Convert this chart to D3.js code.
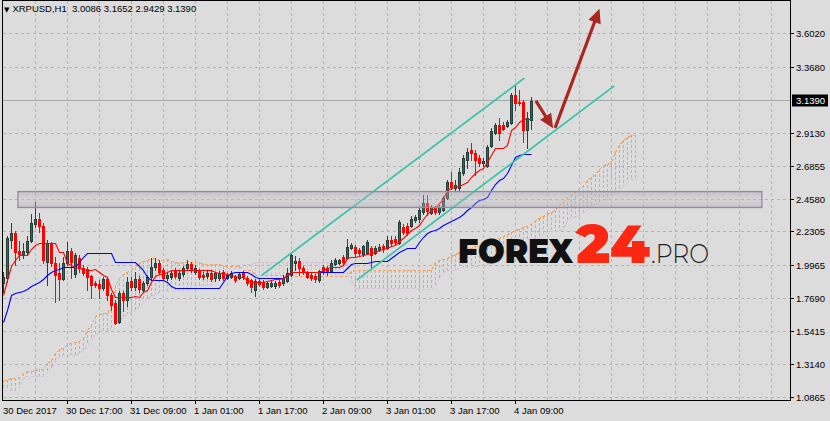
<!DOCTYPE html>
<html><head><meta charset="utf-8">
<script src="https://cdn.jsdelivr.net/npm/d3@7"></script>
<style>html,body{margin:0;padding:0;background:#dcdcdc;}svg{display:block;}</style>
</head><body>
<svg id="c" width="830" height="421"></svg>
<script>
const symbol = "XRPUSD", timeframe = "H1";
const open = [1.876,1.911,2.174,2.223,2.098,2.077,2.091,2.167,2.285,2.320,
2.271,2.022,2.153,2.015,1.945,1.904,2.015,2.098,1.938,2.049,
1.980,1.973,1.925,1.876,1.869,1.841,1.904,1.793,1.738,1.606,
1.807,1.759,1.890,1.848,1.904,1.828,1.876,1.918,1.987,2.015,
1.966,1.911,1.918,1.959,1.911,1.938,1.980,2.008,1.952,1.959,
1.931,1.925,1.945,1.911,1.911,1.952,1.911,1.918,1.918,1.911,
1.945,1.911,1.897,1.828,1.890,1.883,1.848,1.855,1.855,1.883,
1.876,1.890,1.931,2.015,2.029,1.980,1.945,1.931,1.925,1.897,
1.987,1.980,1.959,2.008,2.015,2.056,2.049,2.119,2.126,2.105,
2.077,2.084,2.119,2.084,2.105,2.133,2.119,2.174,2.181,2.153,
2.264,2.271,2.271,2.313,2.320,2.368,2.431,2.361,2.396,2.368,
2.382,2.465,2.576,2.535,2.535,2.639,2.729,2.798,2.777,2.743,
2.708,2.687,2.826,2.916,2.971,2.971,2.964,2.985,3.179,3.131,
3.131,2.937,3.0086];
const high = [1.952,2.202,2.292,2.237,2.167,2.153,2.202,2.355,2.438,2.361,
2.292,2.174,2.160,2.056,2.015,2.056,2.160,2.119,2.084,2.070,
2.001,1.987,1.931,1.890,1.897,1.918,1.918,1.807,1.759,1.821,
1.821,1.918,1.918,1.952,1.925,1.890,1.931,2.049,2.049,2.036,
1.980,1.952,1.966,1.980,1.959,1.994,2.036,2.022,2.001,1.973,
1.952,1.959,1.959,1.952,1.959,1.966,1.945,1.959,1.931,1.952,
1.959,1.925,1.904,1.904,1.904,1.897,1.883,1.890,1.890,1.897,
1.931,1.980,2.084,2.063,2.049,1.994,1.959,1.945,1.938,1.966,
2.001,1.994,2.036,2.049,2.042,2.070,2.181,2.153,2.140,2.119,
2.140,2.174,2.133,2.133,2.146,2.146,2.202,2.202,2.202,2.313,
2.285,2.292,2.341,2.348,2.396,2.486,2.486,2.417,2.410,2.417,
2.479,2.590,2.646,2.590,2.673,2.763,2.812,2.847,2.798,2.763,
2.743,2.833,2.950,2.985,3.020,2.992,3.006,3.193,3.242,3.214,
3.145,3.062,3.1652];
const low = [1.814,1.883,2.119,2.001,2.036,2.049,2.077,2.160,2.264,2.230,
2.015,1.862,1.994,1.745,1.759,1.897,2.001,1.911,1.918,1.952,
1.931,1.828,1.772,1.848,1.772,1.828,1.759,1.689,1.592,1.599,
1.682,1.717,1.828,1.828,1.814,1.814,1.862,1.897,1.966,1.938,
1.897,1.897,1.904,1.911,1.897,1.925,1.966,1.952,1.938,1.904,
1.904,1.911,1.890,1.890,1.897,1.897,1.904,1.911,1.883,1.904,
1.904,1.862,1.814,1.786,1.855,1.834,1.841,1.848,1.841,1.848,
1.862,1.883,1.925,1.966,1.931,1.938,1.911,1.897,1.883,1.883,
1.938,1.931,1.952,2.001,2.008,2.008,2.042,2.112,2.063,2.063,
2.063,2.077,1.987,2.077,2.098,2.091,2.112,2.140,2.146,2.146,
2.216,2.209,2.264,2.299,2.299,2.355,2.348,2.355,2.355,2.355,
2.375,2.459,2.528,2.514,2.521,2.625,2.673,2.729,2.625,2.687,
2.687,2.680,2.819,2.909,2.867,2.937,2.957,2.978,3.075,3.110,
2.853,2.812,2.9429];
const close = [1.918,2.188,2.223,2.091,2.077,2.098,2.167,2.292,2.320,2.271,
2.036,2.153,2.015,1.931,1.904,2.015,2.098,2.022,2.070,1.980,
1.945,1.918,1.862,1.862,1.841,1.904,1.793,1.724,1.599,1.807,
1.759,1.883,1.848,1.904,1.834,1.876,1.918,1.987,2.015,1.952,
1.911,1.931,1.945,1.925,1.945,1.980,2.008,1.966,1.980,1.918,
1.918,1.945,1.904,1.945,1.945,1.911,1.931,1.945,1.897,1.938,
1.918,1.876,1.848,1.890,1.869,1.848,1.876,1.876,1.876,1.862,
1.911,1.945,2.070,2.029,1.980,1.952,1.918,1.911,1.904,1.959,
1.952,1.952,2.015,2.036,2.036,2.022,2.126,2.140,2.084,2.084,
2.133,2.160,2.070,2.119,2.126,2.112,2.174,2.153,2.160,2.299,
2.230,2.223,2.320,2.334,2.382,2.431,2.375,2.403,2.368,2.403,
2.465,2.576,2.542,2.555,2.646,2.743,2.784,2.777,2.729,2.708,
2.722,2.819,2.930,2.971,2.916,2.943,2.992,3.179,3.124,3.124,
2.937,3.020,3.1390];
const tenkan = [1.793,1.897,1.994,2.036,2.070,2.070,2.070,2.112,2.140,2.153,
2.153,2.153,2.153,2.153,2.091,2.091,2.015,2.001,1.987,1.980,
1.973,1.966,1.966,1.973,1.952,1.931,1.918,1.834,1.779,1.779,
1.779,1.779,1.779,1.786,1.779,1.814,1.828,1.883,1.925,1.938,
1.938,1.952,1.966,1.966,1.966,1.966,1.966,1.966,1.966,1.966,
1.966,1.966,1.966,1.952,1.945,1.945,1.938,1.931,1.925,1.918,
1.918,1.897,1.883,1.883,1.883,1.883,1.890,1.897,1.904,1.904,
1.911,1.931,1.952,1.952,1.952,1.952,1.952,1.952,1.952,1.952,
1.966,1.980,1.987,1.987,1.987,2.001,2.049,2.056,2.056,2.063,
2.070,2.077,2.084,2.091,2.105,2.112,2.119,2.133,2.140,2.167,
2.188,2.216,2.244,2.258,2.278,2.320,2.355,2.382,2.396,2.431,
2.459,2.521,2.535,2.542,2.549,2.562,2.576,2.611,2.639,2.660,
2.673,2.715,2.763,2.812,2.812,2.812,2.833,2.937,2.957,2.992,
3.013,3.013,3.013];
const kijun = [1.606,1.689,1.793,1.807,1.814,1.821,1.834,1.855,1.869,1.883,
1.904,1.931,1.952,1.966,1.973,1.987,1.987,1.987,1.987,2.022,
2.056,2.084,2.084,2.084,2.084,2.084,2.084,2.084,2.022,2.022,
2.022,2.022,2.022,2.022,1.994,1.966,1.918,1.897,1.897,1.897,
1.897,1.883,1.855,1.841,1.841,1.841,1.841,1.841,1.841,1.841,
1.841,1.841,1.841,1.841,1.841,1.883,1.925,1.945,1.952,1.952,
1.952,1.952,1.938,1.918,1.911,1.911,1.911,1.911,1.911,1.911,
1.911,1.931,1.952,1.952,1.952,1.952,1.952,1.952,1.952,1.952,
1.952,1.952,1.952,1.952,1.952,1.952,1.980,2.008,2.015,2.015,
2.015,2.015,2.022,2.029,2.029,2.029,2.029,2.049,2.070,2.091,
2.105,2.119,2.119,2.119,2.160,2.195,2.223,2.237,2.244,2.258,
2.278,2.292,2.306,2.320,2.334,2.355,2.382,2.403,2.431,2.452,
2.459,2.472,2.521,2.562,2.590,2.604,2.639,2.694,2.749,2.763,
2.770,2.770,2.770];
const spanA = [1.204,1.204,1.218,1.218,1.225,1.253,1.266,1.266,1.273,1.280,
1.280,1.322,1.343,1.391,1.419,1.426,1.454,1.460,1.467,1.474,
1.495,1.551,1.585,1.648,1.661,1.668,1.668,1.724,1.862,1.911,
1.938,1.952,1.973,1.987,2.015,2.029,2.036,2.049,2.049,2.036,
2.036,2.042,2.029,2.022,2.015,2.022,2.022,2.022,2.022,2.022,
2.008,2.008,2.008,2.008,2.008,1.994,1.994,1.994,1.994,1.994,
1.966,1.966,1.966,1.931,1.931,1.931,1.931,1.931,1.931,1.931,
1.931,1.931,1.931,1.925,1.925,1.925,1.925,1.925,1.925,1.925,
1.925,1.925,1.925,1.925,1.925,1.925,1.925,1.959,1.966,1.966,
1.966,1.966,1.966,1.966,1.966,1.966,1.966,1.966,1.966,1.966,
1.966,1.966,1.966,1.966,1.966,1.966,1.966,1.966,2.022,2.036,
2.042,2.049,2.063,2.077,2.091,2.098,2.105,2.119,2.133,2.140,
2.146,2.153,2.167,2.181,2.188,2.202,2.216,2.230,2.244,2.251,
2.264,2.271,2.292,2.313,2.327,2.341,2.355,2.368,2.382,2.417,
2.445,2.472,2.493,2.514,2.535,2.555,2.590,2.611,2.632,2.666,
2.694,2.701,2.715,2.784,2.833,2.867,2.888,2.902,2.902];
const spanB = [1.135,1.135,1.135,1.135,1.163,1.218,1.232,1.232,1.232,1.232,
1.232,1.260,1.287,1.343,1.364,1.378,1.378,1.378,1.378,1.391,
1.412,1.447,1.488,1.523,1.530,1.530,1.530,1.571,1.599,1.620,
1.641,1.661,1.675,1.689,1.717,1.745,1.772,1.786,1.800,1.814,
1.821,1.821,1.821,1.828,1.828,1.828,1.828,1.862,1.862,1.862,
1.862,1.862,1.862,1.931,1.931,1.931,1.980,1.980,1.980,1.980,
2.008,2.008,2.008,2.022,2.022,2.022,2.022,2.022,2.022,2.022,
2.022,2.022,2.022,2.022,2.022,2.022,2.022,2.022,2.022,2.022,
2.022,2.022,2.022,2.022,2.022,2.022,2.022,1.897,1.841,1.841,
1.841,1.841,1.841,1.841,1.841,1.841,1.841,1.841,1.841,1.841,
1.841,1.841,1.841,1.841,1.841,1.834,1.834,1.834,1.862,1.911,
1.952,1.966,1.966,1.966,1.987,1.987,1.987,1.987,1.987,2.001,
2.001,2.001,2.049,2.049,2.049,2.091,2.091,2.091,2.119,2.119,
2.153,2.174,2.188,2.188,2.188,2.223,2.223,2.237,2.237,2.237,
2.258,2.313,2.334,2.334,2.348,2.368,2.382,2.410,2.424,2.438,
2.452,2.452,2.479,2.507,2.528,2.549,2.576,2.597,2.597];
const priceTicks = [3.6020,3.3680,2.9130,2.6855,2.4580,2.2305,1.9965,1.7690,1.5415,1.3140,1.0865];
const timeTickBars = [0,16,32,48,64,80,96,112,128];
const timeLabels = ["30 Dec 2017","30 Dec 17:00","31 Dec 09:00","1 Jan 01:00","1 Jan 17:00","2 Jan 09:00","3 Jan 01:00","3 Jan 17:00","4 Jan 09:00"];
const zoneBars = [3.6, 189.6];
const zonePrices = [2.40, 2.51];
const channelUpper = [[64.55,1.931],[130.2,3.295]];
const channelLower = [[88.3,1.897],[152.7,3.242]];
const arrowDown = [[133.1,3.138],[137.4,2.949]];
const arrowUp = [[137.9,2.951],[149.0,3.775]];

const W = 830, H = 421;
const svg = d3.select("#c");
const x = d3.scaleLinear().domain([0,196]).range([3.5,787.5]);
const y = d3.scaleLinear().domain([1.0865,3.6020]).range([397.3,33.8]);
const font = "'Liberation Sans', Arial, sans-serif";

svg.append("rect").attr("width",W).attr("height",H).attr("fill","#dcdcdc");
const defs = svg.append("defs");
defs.append("clipPath").attr("id","clip").append("rect").attr("x",3).attr("y",1).attr("width",787).attr("height",399);
const grad = defs.append("linearGradient").attr("id","zg").attr("x1",0).attr("x2",0).attr("y1",0).attr("y2",1);
grad.append("stop").attr("offset","0%").attr("stop-color","#a4a4ac").attr("stop-opacity",0.45);
grad.append("stop").attr("offset","50%").attr("stop-color","#c0c0c6").attr("stop-opacity",0.3);
grad.append("stop").attr("offset","100%").attr("stop-color","#a4a4ac").attr("stop-opacity",0.45);

const g = svg.append("g").attr("clip-path","url(#clip)");

// grid
const grid = g.append("g").attr("shape-rendering","crispEdges").attr("stroke","#b3b3b3").attr("stroke-dasharray","3,3");
d3.range(8,197,8).forEach(b=>{
  grid.append("line").attr("x1",x(b)).attr("x2",x(b)).attr("y1",1).attr("y2",400);
});
priceTicks.forEach(t=>{
  const yy = Math.floor(y(t))+0.5;
  grid.append("line").attr("x1",3).attr("x2",790).attr("y1",yy).attr("y2",yy);
});

// Ichimoku cloud
const cloud = g.append("g").attr("shape-rendering","crispEdges");
spanA.forEach((a,j)=>{
  const b = spanB[j];
  cloud.append("line").attr("x1",x(j)).attr("x2",x(j))
    .attr("y1",Math.round(y(Math.max(a,b)))).attr("y2",Math.round(y(Math.min(a,b))))
    .attr("stroke", a>=b ? "#f4a460" : "#d8bfd8").attr("stroke-dasharray","3,2");
});
const spanLine = d3.line().x((d,j)=>x(j)).y(d=>Math.round(y(d))+0.5);
cloud.append("path").attr("d",spanLine(spanB)).attr("fill","none").attr("stroke","#d8bfd8").attr("stroke-dasharray","3,2");
cloud.append("path").attr("d",spanLine(spanA)).attr("fill","none").attr("stroke","#f4a460").attr("stroke-dasharray","3,2");

// price line
const py = Math.floor(y(close[close.length-1]))+0.5;
g.append("line").attr("x1",3).attr("x2",790).attr("y1",py).attr("y2",py).attr("stroke","#a8a8a8").attr("shape-rendering","crispEdges");

// candles
const cg = g.append("g").attr("shape-rendering","crispEdges");
open.forEach((o,i)=>{
  const c = close[i], cx = x(i), up = c >= o;
  cg.append("line").attr("x1",cx).attr("x2",cx).attr("y1",Math.round(y(high[i]))).attr("y2",Math.round(y(low[i]))+1)
    .attr("stroke", up ? "#27443d" : "#ff0000");
  const t = Math.round(y(Math.max(o,c))), b = Math.round(y(Math.min(o,c)));
  cg.append("rect").attr("x",cx-1).attr("y",t+0.5).attr("width",2).attr("height",Math.max(b-t,0))
    .attr("fill", up ? "#346656" : "#ff0000").attr("stroke", up ? "#243f38" : "#ff0000");
});

// tenkan / kijun
const ln = d3.line().x((d,i)=>x(i)).y(d=>Math.round(y(d))+0.5);
g.append("path").attr("d",ln(kijun)).attr("fill","none").attr("stroke","#0000ff").attr("stroke-width",1.1);
g.append("path").attr("d",ln(tenkan)).attr("fill","none").attr("stroke","#ff0000").attr("stroke-width",1.1);

// channel
[channelUpper,channelLower].forEach(p=>{
  g.append("line").attr("x1",x(p[0][0])).attr("y1",y(p[0][1])).attr("x2",x(p[1][0])).attr("y2",y(p[1][1]))
   .attr("stroke","#2fc2a6").attr("stroke-width",1.6);
});

// zone
g.append("rect").attr("x",x(zoneBars[0])).attr("y",y(zonePrices[1])).attr("width",x(zoneBars[1])-x(zoneBars[0]))
  .attr("height",y(zonePrices[0])-y(zonePrices[1])).attr("fill","url(#zg)").attr("stroke","#9886a8").attr("stroke-width",1.3);

// arrows
function arrow(p){
  const x0=x(p[0][0]), y0=y(p[0][1]), x1=x(p[1][0]), y1=y(p[1][1]);
  const dx=x1-x0, dy=y1-y0, L=Math.hypot(dx,dy), ux=dx/L, uy=dy/L;
  const hl=14, hw=6.5;
  const bx=x1-ux*hl, by=y1-uy*hl;
  g.append("line").attr("x1",x0).attr("y1",y0).attr("x2",bx+ux*2).attr("y2",by+uy*2).attr("stroke","#a8281f").attr("stroke-width",3.2);
  g.append("path").attr("d",`M${x1},${y1}L${bx-uy*hw},${by+ux*hw}L${bx+uy*hw},${by-ux*hw}Z`).attr("fill","#a8281f");
}
arrow(arrowDown); arrow(arrowUp);

// logo
const lg = svg.append("g");
lg.append("text").attr("x",458).attr("y",262.7).text("FOREX").attr("font-family","Montserrat, Inter, Lato, sans-serif")
  .attr("font-weight",900).attr("font-size",33.5).attr("fill","#111").attr("textLength",115).attr("lengthAdjust","spacingAndGlyphs");
lg.append("text").attr("x",576).attr("y",262.7).text("24").attr("font-family","Montserrat, Inter, Lato, sans-serif")
  .attr("font-weight",900).attr("font-size",53).attr("fill","#fa2812").attr("textLength",74).attr("lengthAdjust","spacingAndGlyphs");
lg.append("text").attr("x",651).attr("y",262.7).text(".PRO").attr("font-family","Montserrat, Inter, Lato, sans-serif")
  .attr("font-weight",300).attr("font-size",27).attr("fill","#222").attr("textLength",58).attr("lengthAdjust","spacingAndGlyphs");

// frame
svg.append("rect").attr("x",2.5).attr("y",0.5).attr("width",788).attr("height",400).attr("fill","none").attr("stroke","#000").attr("shape-rendering","crispEdges");

// right axis
const ax = svg.append("g").attr("font-family",font).attr("font-size",9.5).attr("fill","#000");
priceTicks.forEach(t=>{
  const yy = Math.floor(y(t))+0.5;
  ax.append("line").attr("x1",790).attr("x2",794).attr("y1",yy).attr("y2",yy).attr("stroke","#000").attr("shape-rendering","crispEdges");
  ax.append("text").attr("x",796).attr("y",yy+3.5).text(t.toFixed(4));
});
ax.append("rect").attr("x",792).attr("y",py-6).attr("width",36).attr("height",12).attr("fill","#000");
ax.append("text").attr("x",796).attr("y",py+3.5).attr("fill","#fff").text(close[close.length-1].toFixed(4));

// bottom axis
timeTickBars.forEach((b,k)=>{
  if(k>0) ax.append("line").attr("x1",x(b)).attr("x2",x(b)).attr("y1",400).attr("y2",404).attr("stroke","#000").attr("shape-rendering","crispEdges");
  ax.append("text").attr("x",k===0?3:x(b)-1.5).attr("y",413.5).text(timeLabels[k]);
});

// header
const n = close.length-1;
const hd = svg.append("text").attr("x",4).attr("y",12).attr("font-family",font).attr("font-size",9.5).attr("fill","#000").attr("xml:space","preserve").style("white-space","pre");
hd.append("tspan").attr("font-family","'DejaVu Sans'").attr("font-size",7).text("▼");
hd.append("tspan").attr("dx",3).text(`${symbol},${timeframe}  ${open[n].toFixed(4)} ${high[n].toFixed(4)} ${low[n].toFixed(4)} ${close[n].toFixed(4)}`);
</script>
</body></html>
